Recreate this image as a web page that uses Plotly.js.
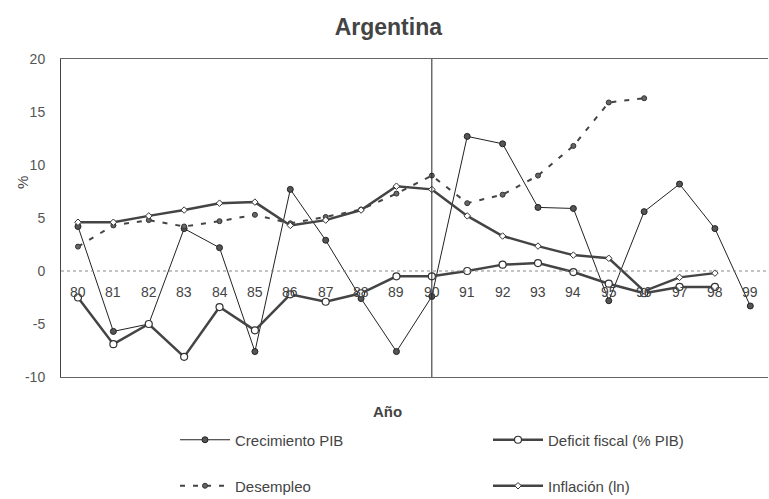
<!DOCTYPE html>
<html>
<head>
<meta charset="utf-8">
<script src="https://cdn.plot.ly/plotly-3.0.1.min.js"></script>
<style>html,body{margin:0;padding:0;background:#fff;}#chart{width:769px;height:499px;}</style>
</head>
<body>
<div id="chart"></div>
<script>
const years = [80,81,82,83,84,85,86,87,88,89,90,91,92,93,94,95,96,97,98,99];
const yearLabels = ["80","81","82","83","84","85","86","87","88","89","90","91","92","93","94","95","96","97","98","99"];
const crecimientoPIB = [4.2,-5.7,-5.0,4.0,2.2,-7.6,7.7,2.9,-2.6,-7.6,-2.4,12.7,12.0,6.0,5.9,-2.8,5.6,8.2,4.0,-3.3];
const deficitFiscal = [-2.5,-6.9,-5.0,-8.1,-3.4,-5.6,-2.2,-2.9,-2.1,-0.5,-0.5,0.0,0.6,0.75,-0.1,-1.2,-2.1,-1.5,-1.5,null];
const desempleo = [2.3,4.3,4.8,4.2,4.7,5.3,4.5,5.1,5.8,7.3,9.0,6.4,7.2,9.0,11.8,15.9,16.3,null,null,null];
const inflacion = [4.6,4.6,5.2,5.75,6.4,6.5,4.3,4.8,5.75,8.0,7.7,5.2,3.3,2.35,1.5,1.2,-1.9,-0.6,-0.2,null];
const seriesNames = ["Crecimiento PIB","Deficit fiscal (% PIB)","Desempleo","Inflación (ln)"];
const yTickVals = [-10,-5,0,5,10,15,20];
const yTickText = ["-10","-5","0","5","10","15","20"];

const FONT = "Liberation Sans, Arial, sans-serif";
const W = 769, H = 499;

const traces = [
  {x: years, y: crecimientoPIB, name: seriesNames[0], type: 'scatter', mode: 'lines+markers',
   line: {color: '#222', width: 1}, marker: {symbol: 'circle', size: 6, color: '#555', line: {color: '#222', width: 1}},
   legend: 'legend'},
  {x: years, y: deficitFiscal, name: seriesNames[1], type: 'scatter', mode: 'lines+markers',
   line: {color: '#444', width: 2.5}, marker: {symbol: 'circle', size: 7, color: '#fff', line: {color: '#333', width: 1.2}},
   legend: 'legend2'},
  {x: years, y: desempleo, name: seriesNames[2], type: 'scatter', mode: 'lines+markers',
   line: {color: '#444', width: 2, dash: '5px,8px'}, marker: {symbol: 'circle', size: 5, color: '#666', line: {color: '#333', width: 1}},
   legend: 'legend3'},
  {x: years, y: inflacion, name: seriesNames[3], type: 'scatter', mode: 'lines+markers',
   line: {color: '#444', width: 2.5}, marker: {symbol: 'diamond', size: 5, color: '#fff', line: {color: '#333', width: 1}},
   legend: 'legend4'}
];

const annotations = years.map((yr, i) => ({
  x: yr, y: 0, xref: 'x', yref: 'y', text: yearLabels[i], showarrow: false,
  yanchor: 'middle', yshift: -21, font: {family: FONT, size: 14, color: '#444'}
}));
annotations.push({x: (22 - 61) / 707, y: (377 - 183) / 318, xref: 'paper', yref: 'paper', text: '%', showarrow: false,
  textangle: -90, xanchor: 'center', yanchor: 'middle', font: {family: FONT, size: 15, color: '#444'}});
annotations.push({x: (387 - 61) / 707, y: -(411 - 377) / 318, xref: 'paper', yref: 'paper', text: '<b>Año</b>', showarrow: false,
  xanchor: 'center', yanchor: 'middle', font: {family: FONT, size: 15, color: '#444'}});

function leg(px, py) {
  return {xref: 'container', yref: 'container', x: px / W, y: 1 - py / H, xanchor: 'left', yanchor: 'middle',
          itemwidth: 50, font: {family: FONT, size: 15, color: '#444'}, bgcolor: 'rgba(0,0,0,0)'};
}

const layout = {
  width: W, height: H,
  margin: {l: 61, r: 1, t: 59, b: 122, autoexpand: false},
  paper_bgcolor: '#fff', plot_bgcolor: '#fff',
  font: {family: FONT, color: '#333'},
  title: {text: '<b>Argentina</b>', x: 0.505, xanchor: 'center', y: 0.945, yanchor: 'middle',
          font: {family: FONT, size: 23, color: '#444'}},
  xaxis: {range: [79.52, 99.5], showgrid: false, zeroline: false, showticklabels: false,
          showline: true, mirror: true, linecolor: '#666', linewidth: 1, ticks: ''},
  yaxis: {range: [-10, 20], tickvals: yTickVals, ticktext: yTickText, showgrid: false, zeroline: false,
          showline: true, linecolor: '#444', linewidth: 1, ticks: '', ticklabelstandoff: 12,
          tickfont: {family: FONT, size: 14, color: '#555'}},
  shapes: [
    {type: 'line', xref: 'paper', yref: 'y', x0: 0, x1: 1, y0: 0, y1: 0,
     line: {color: '#888', width: 1, dash: 'dot'}},
    {type: 'line', xref: 'x', yref: 'paper', x0: 90, x1: 90, y0: 0, y1: 1,
     line: {color: '#222', width: 1}}
  ],
  annotations: annotations,
  showlegend: true,
  legend: leg(175, 440),
  legend2: leg(488, 440),
  legend3: leg(175, 486),
  legend4: leg(488, 486)
};

Plotly.newPlot('chart', traces, layout, {displayModeBar: false, staticPlot: true});
</script>
</body>
</html>
